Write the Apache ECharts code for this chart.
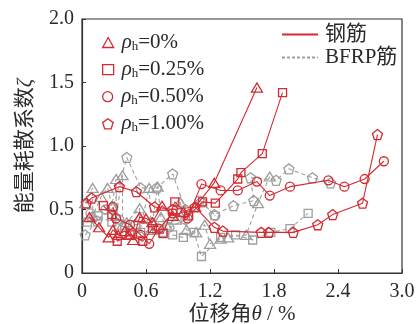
<!DOCTYPE html>
<html><head><meta charset="utf-8">
<script src="https://cdn.jsdelivr.net/npm/echarts@6/dist/echarts.min.js"></script>
<style>html,body{margin:0;padding:0;background:#fff}#c{width:419px;height:324px}</style>
</head><body><div id="c"></div>
<script>
// ---- data ----
const xTicks = [0, 0.6, 1.2, 1.8, 2.4, 3.0];
const yTicks = [0, 0.5, 1.0, 1.5, 2.0];
const legendLabels = ['ρh=0%', 'ρh=0.25%', 'ρh=0.50%', 'ρh=1.00%'];
const rebarLabels = ['钢筋', 'BFRP筋'];

const steel0 = [[0.07,0.44],[0.16,0.36],[0.25,0.28],[0.29,0.34],[0.34,0.30],[0.40,0.33],[0.44,0.30],[0.48,0.26],[0.54,0.44],[0.60,0.43],[0.66,0.40],[0.75,0.53],[0.85,0.45],[0.95,0.48],[1.06,0.52],[1.24,0.71],[1.64,1.46]];
const steel025 = [[0.20,0.53],[0.28,0.46],[0.33,0.25],[0.45,0.30],[0.57,0.25],[0.66,0.35],[0.76,0.31],[0.87,0.56],[1.00,0.45],[1.13,0.56],[1.25,0.55],[1.46,0.74],[1.49,0.79],[1.69,0.94],[1.88,1.42]];
const steel050 = [[0.29,0.52],[0.32,0.43],[0.45,0.38],[0.55,0.30],[0.63,0.23],[0.72,0.35],[0.85,0.47],[0.99,0.43],[1.12,0.70],[1.30,0.65],[1.46,0.65],[1.64,0.72],[1.76,0.61],[1.95,0.68],[2.31,0.73],[2.46,0.68],[2.65,0.74],[2.83,0.88]];
const steel100 = [[0.04,0.55],[0.09,0.59],[0.35,0.68],[0.51,0.64],[0.68,0.52],[0.85,0.50],[1.06,0.52],[1.24,0.36],[1.32,0.33],[1.68,0.32],[1.75,0.32],[1.98,0.32],[2.21,0.38],[2.35,0.46],[2.63,0.55],[2.77,1.09]];

const bfrp0 = [[0.03,0.55],[0.10,0.67],[0.10,0.45],[0.18,0.60],[0.24,0.67],[0.28,0.53],[0.32,0.74],[0.32,0.45],[0.38,0.77],[0.38,0.38],[0.42,0.40],[0.54,0.51],[0.54,0.32],[0.63,0.67],[0.65,0.34],[0.71,0.68],[0.74,0.44],[0.79,0.38],[0.88,0.42],[0.92,0.56],[0.98,0.34],[1.07,0.32],[1.15,0.38],[1.20,0.23],[1.30,0.27],[1.37,0.28],[1.54,0.30],[1.65,0.55],[1.76,0.76]];
const bfrp025 = [[0.05,0.40],[0.15,0.45],[0.28,0.40],[0.40,0.36],[0.55,0.32],[0.70,0.34],[0.76,0.32],[0.85,0.30],[0.95,0.28],[1.05,0.32],[1.12,0.13],[1.30,0.28],[1.44,0.30],[1.60,0.26],[1.77,0.32],[1.95,0.35],[2.12,0.47]];
const bfrp050 = [[0.08,0.47],[0.22,0.50],[0.35,0.42],[0.50,0.38],[0.65,0.40],[0.82,0.36],[0.97,0.42],[1.10,0.57],[1.25,0.45]];
const bfrp100 = [[0.03,0.30],[0.14,0.41],[0.29,0.51],[0.42,0.91],[0.55,0.67],[0.70,0.67],[0.85,0.78],[0.97,0.50],[1.12,0.56],[1.24,0.46],[1.42,0.53],[1.61,0.57],[1.58,0.75],[1.82,0.73],[1.94,0.82],[2.16,0.75],[2.33,0.71]];

// ---- styling ----
const RED = '#d42a32', GRAY = '#9e9e9e', TXT = '#2a2a2a';
const FONT = '"Liberation Serif","Noto Sans CJK SC",serif';
const PENT = 'path://M0,-10L9.51,-3.09L5.88,8.09L-5.88,8.09L-9.51,-3.09Z';
const shapes = ['triangle', 'rect', 'circle', PENT];
const sizes = [[11,9], [8,8], [9,9], [10,10]];

function mk(name, data, k, color, dashed) {
  return {
    name, type: 'line', data, symbol: shapes[k], symbolSize: sizes[k],
    itemStyle: {color: 'rgba(0,0,0,0)', borderColor: color, borderWidth: 1.3},
    lineStyle: {color, width: 1.1, type: dashed ? [4,3] : 'solid'},
    emphasis: {disabled: true}, z: dashed ? 2 : 3
  };
}
const series = [
  mk('b0', bfrp0, 0, GRAY, true), mk('b1', bfrp025, 1, GRAY, true),
  mk('b2', bfrp050, 2, GRAY, true), mk('b3', bfrp100, 3, GRAY, true),
  mk('s0', steel0, 0, RED, false), mk('s1', steel025, 1, RED, false),
  mk('s2', steel050, 2, RED, false), mk('s3', steel100, 3, RED, false)
];
legendLabels.forEach((n, k) => series.push(mk(n, [], k, RED, false)));
series.push({name: rebarLabels[0], type: 'line', data: [], symbol: 'none', itemStyle: {color: RED}, lineStyle: {color: RED, width: 1.2}});
series.push({name: rebarLabels[1], type: 'line', data: [], symbol: 'none', itemStyle: {color: GRAY}, lineStyle: {color: GRAY, width: 1.2, type: [3,2]}});

const rich = {
  i: {fontFamily: FONT, fontSize: 21, fontStyle: 'italic', color: TXT},
  s: {fontFamily: FONT, fontSize: 13, color: TXT, verticalAlign: 'bottom', padding: [8,0,0,0]},
  t: {fontFamily: FONT, fontSize: 21, color: TXT}
};
const legends = legendLabels.map((n, k) => ({
  data: [{name: n, icon: shapes[k], itemStyle: {color: 'rgba(0,0,0,0)', borderColor: RED, borderWidth: 1.3}}],
  left: 102, top: 32 + k * 27.1, padding: 0, itemWidth: 11, itemHeight: 10,
  selectedMode: false,
  formatter: (name) => '{i|ρ}{s|h}{t|' + name.slice(2) + '}',
  textStyle: {rich, padding: [0,0,0,3]}
}));
rebarLabels.forEach((n, k) => legends.push({
  data: [{name: n, itemStyle: {opacity: 0}}],
  left: 281, top: 24 + k * 23, padding: 0, itemWidth: 36, itemHeight: 14, selectedMode: false,
  textStyle: {fontFamily: FONT, fontSize: 21, color: TXT, padding: [0,0,0,2]}
}));

const chart = echarts.init(document.getElementById('c'));
chart.setOption({
  animation: false,
  grid: {left: 82, right: 17, top: 19, bottom: 51, show: true, borderColor: '#333', borderWidth: 1.2,
         backgroundColor: 'transparent', containLabel: false, outerBoundsMode: 'none'},
  legend: legends,
  xAxis: {
    type: 'value', min: xTicks[0], max: xTicks[xTicks.length - 1], interval: 0.6,
    name: '位移角{i|θ}{t| / %}', nameLocation: 'middle', nameGap: 31, nameMoveOverlap: false,
    nameTextStyle: {fontFamily: FONT, fontSize: 21, color: TXT, rich},
    axisLine: {lineStyle: {color: '#333', width: 1.2}},
    axisTick: {inside: true, length: 4, lineStyle: {color: '#333'}},
    axisLabel: {fontFamily: FONT, fontSize: 20, color: TXT, margin: 9, formatter: v => (v === 0 ? '0' : v.toFixed(1))},
    splitLine: {show: false}
  },
  yAxis: {
    type: 'value', min: yTicks[0], max: yTicks[yTicks.length - 1], interval: 0.5,
    name: '能量耗散系数{i|ζ}', nameLocation: 'middle', nameGap: 46, nameRotate: 90, nameMoveOverlap: false,
    nameTextStyle: {fontFamily: FONT, fontSize: 21, color: TXT, rich},
    axisLine: {show: true, lineStyle: {color: '#333', width: 1.2}},
    axisTick: {show: true, inside: true, length: 4, lineStyle: {color: '#333'}},
    axisLabel: {fontFamily: FONT, fontSize: 20, color: TXT, margin: 8, formatter: v => (v === 0 ? '0' : v.toFixed(1))},
    splitLine: {show: false}
  },
  series
});
</script></body></html>
